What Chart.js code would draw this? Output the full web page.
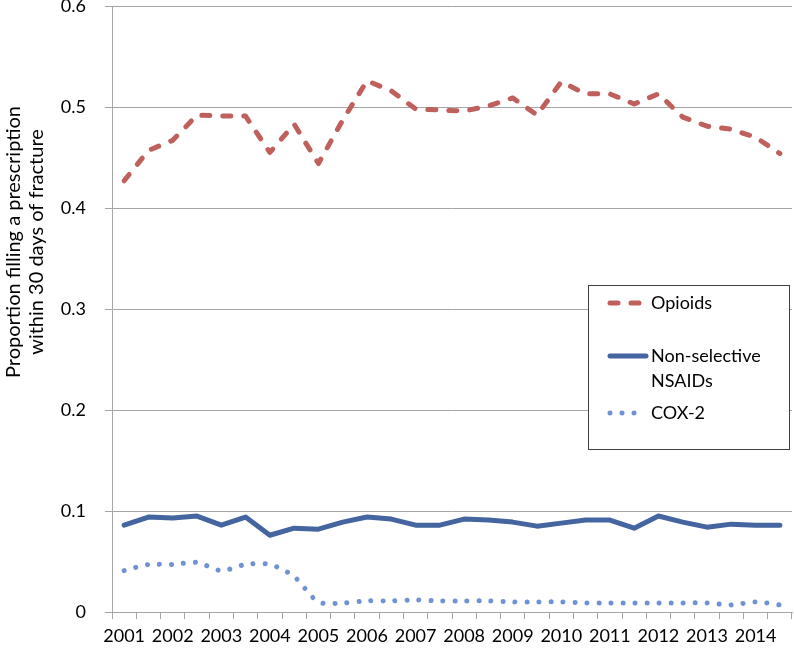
<!DOCTYPE html>
<html>
<head>
<meta charset="utf-8">
<script src="https://cdn.jsdelivr.net/npm/chart.js@4"></script>
<style>
  body { margin: 0; background: #fff; }
  #wrap { width: 794px; height: 649px; }
</style>
</head>
<body>
<div id="wrap"><canvas id="chart" width="794" height="649"></canvas></div>
<script>
// half-year periods, 2001 to 2014.5
var periods = ['2001', '2001.5', '2002', '2002.5', '2003', '2003.5', '2004', '2004.5',
  '2005', '2005.5', '2006', '2006.5', '2007', '2007.5', '2008', '2008.5', '2009', '2009.5',
  '2010', '2010.5', '2011', '2011.5', '2012', '2012.5', '2013', '2013.5', '2014', '2014.5'];
var yearLabels = ['2001', '2002', '2003', '2004', '2005', '2006', '2007',
  '2008', '2009', '2010', '2011', '2012', '2013', '2014'];

var opioids = [0.427, 0.457, 0.467, 0.492, 0.491, 0.491, 0.455, 0.483, 0.444, 0.487,
  0.526, 0.516, 0.498, 0.497, 0.496, 0.501, 0.509, 0.492, 0.525, 0.513,
  0.513, 0.503, 0.513, 0.490, 0.481, 0.478, 0.470, 0.454];
var nsaids = [0.086, 0.094, 0.093, 0.095, 0.086, 0.094, 0.076, 0.083, 0.082, 0.089,
  0.094, 0.092, 0.086, 0.086, 0.092, 0.091, 0.089, 0.085, 0.088, 0.091,
  0.091, 0.083, 0.095, 0.089, 0.084, 0.087, 0.086, 0.086];
var cox2 = [0.041, 0.047, 0.047, 0.049, 0.041, 0.047, 0.047, 0.035, 0.010, 0.009,
  0.011, 0.011, 0.012, 0.011, 0.011, 0.011, 0.010, 0.010, 0.010, 0.009,
  0.009, 0.009, 0.009, 0.009, 0.009, 0.007, 0.010, 0.007];

var yTitle = ['Proportion filling a prescription', 'within 30 days of fracture'];

var FONT = 'Lato, "Open Sans", sans-serif';
var gridColor = '#a6a6a6';

// y title and boxed legend, drawn by hand to match the original layout
var extras = {
  id: 'extras',
  afterDraw: function(chart) {
    var ctx = chart.ctx;
    ctx.save();
    ctx.fillStyle = '#000';
    ctx.font = '20px ' + FONT;
    ctx.textAlign = 'center';
    ctx.textBaseline = 'middle';
    ctx.translate(0, 242);
    ctx.rotate(-Math.PI / 2);
    ctx.fillText(yTitle[0], 0, 14);
    ctx.fillText(yTitle[1], 0, 37);
    ctx.restore();

    ctx.save();
    ctx.fillStyle = '#fff';
    ctx.fillRect(588, 285, 201, 164);
    ctx.strokeStyle = '#404040';
    ctx.lineWidth = 1;
    ctx.strokeRect(588.5, 285.5, 201, 164);
    var rows = [303, 356, 413];
    chart.data.datasets.forEach(function(ds, i) {
      var y = rows[i];
      ctx.beginPath();
      ctx.strokeStyle = ds.borderColor;
      ctx.lineWidth = ds.borderWidth;
      ctx.lineCap = 'round';
      ctx.setLineDash(ds.borderDash || []);
      ctx.moveTo(610, y);
      ctx.lineTo(646, y);
      ctx.stroke();
      ctx.setLineDash([]);
      ctx.fillStyle = '#000';
      ctx.font = '18px ' + FONT;
      ctx.textAlign = 'left';
      ctx.textBaseline = 'middle';
      var words = ds.label.split(' ');
      if (words.length > 1 && ds.label.length > 12) {
        ctx.fillText(words[0], 651, y);
        ctx.fillText(words.slice(1).join(' '), 651, y + 25);
      } else {
        ctx.fillText(ds.label, 651, y);
      }
    });
    ctx.restore();
  }
};

new Chart(document.getElementById('chart'), {
  type: 'line',
  data: {
    labels: periods,
    datasets: [
      {
        label: 'Opioids',
        data: opioids,
        borderColor: '#c0605c',
        borderWidth: 5,
        borderDash: [8, 13],
        borderCapStyle: 'round',
        borderJoinStyle: 'round',
        pointRadius: 0,
        tension: 0
      },
      {
        label: 'Non-selective NSAIDs',
        data: nsaids,
        borderColor: '#44659f',
        borderWidth: 5,
        borderCapStyle: 'round',
        borderJoinStyle: 'round',
        pointRadius: 0,
        tension: 0
      },
      {
        label: 'COX-2',
        data: cox2,
        borderColor: '#6f92d3',
        borderWidth: 5,
        borderDash: [0.01, 12],
        borderCapStyle: 'round',
        borderJoinStyle: 'round',
        pointRadius: 0,
        tension: 0.3
      }
    ]
  },
  options: {
    responsive: false,
    animation: false,
    layout: { padding: { top: 6, right: 2, left: 0, bottom: 0 } },
    plugins: {
      legend: { display: false },
      tooltip: { enabled: false }
    },
    scales: {
      x: {
        offset: true,
        border: { color: gridColor },
        grid: { offset: true, drawOnChartArea: false, tickLength: 7, color: gridColor },
        ticks: {
          autoSkip: false,
          maxRotation: 0,
          padding: 6,
          color: '#000',
          font: { family: FONT, size: 18 },
          callback: function(v, i) { return i % 2 === 0 ? yearLabels[i / 2] : ''; }
        },
        afterFit: function(scale) {
          scale.height = 37;
          scale.paddingLeft = 0;
          scale.paddingRight = 0;
        }
      },
      y: {
        min: 0,
        max: 0.6,
        border: { color: gridColor },
        grid: { color: gridColor, tickLength: 7 },
        ticks: {
          stepSize: 0.1,
          padding: 19,
          color: '#000',
          font: { family: FONT, size: 18 },
          callback: function(v) { return v === 0 ? '0' : v.toFixed(1); }
        },
        afterFit: function(scale) {
          scale.width = 112;
          scale.paddingTop = 0;
          scale.paddingBottom = 0;
        }
      }
    }
  },
  plugins: [extras]
});
</script>
</body>
</html>
